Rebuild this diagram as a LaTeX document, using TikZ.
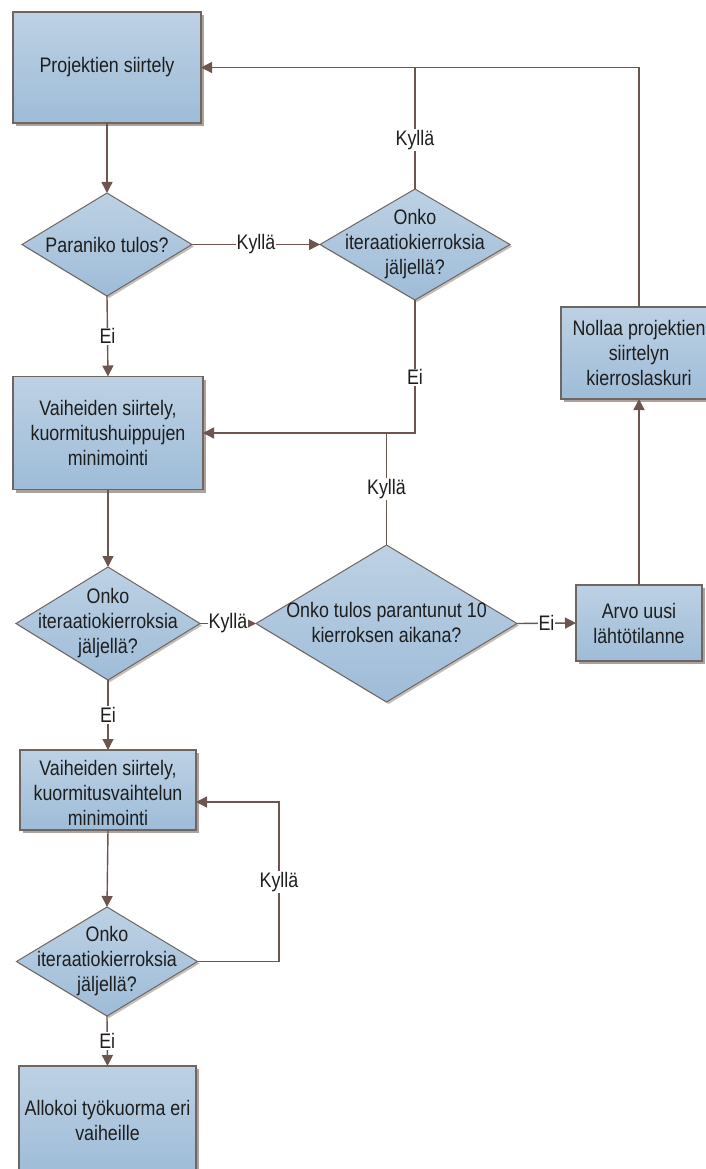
\documentclass[tikz,border=0pt]{standalone}
\usepackage{fontspec}
\setmainfont{Liberation Sans}[FakeStretch=0.85]
\usetikzlibrary{shapes.geometric,arrows.meta,shadows}

\definecolor{filltop}{HTML}{BDD1E4}
\definecolor{fillbot}{HTML}{9EBCD8}
\definecolor{edgec}{HTML}{6F6662}
\definecolor{linec}{HTML}{6E5650}
\definecolor{shadowc}{HTML}{ABA29E}
\definecolor{textc}{HTML}{1E1E1E}

\tikzset{
  base/.style={font=\fontsize{21}{25}\selectfont, text=textc},
  procbox/.style={base, draw=edgec, line width=1.2pt, top color=filltop, bottom color=fillbot,
    align=center, inner sep=0pt, outer sep=0pt,
    general shadow={fill=shadowc, shadow xshift=3pt, shadow yshift=-3pt}},
  decision/.style={diamond, draw=edgec, line width=1pt, top color=filltop, bottom color=fillbot,
    inner sep=0pt, outer sep=0pt,
    general shadow={fill=shadowc!70, shadow xshift=2pt, shadow yshift=-2pt}},
  dtext/.style={base, align=center, inner sep=0pt},
  conn/.style={draw=linec, line width=1.4pt},
  flow/.style={conn, -{Triangle[length=11pt,width=11pt]}},
  lbl/.style={base, fill=white, inner sep=1pt},
}

\begin{document}
\begin{tikzpicture}[x=1pt,y=-1pt]
\useasboundingbox (0,0) rectangle (706,1169);

% process boxes
\node[procbox, minimum width=188pt, minimum height=111pt] (box1) at (107,67.5) {Projektien siirtely};
\node[procbox, minimum width=190pt, minimum height=113pt] (box2) at (108,433) {Vaiheiden siirtely,\\kuormitushuippujen\\minimointi};
\node[procbox, minimum width=156pt, minimum height=92pt] (nollaa) at (639,353) {Nollaa projektien\\siirtelyn\\kierroslaskuri};
\node[procbox, minimum width=126pt, minimum height=76pt] (arvo) at (639,623) {Arvo uusi\\lähtötilanne};
\node[procbox, minimum width=176pt, minimum height=80pt] (box3) at (108,790) {};
\node[dtext] (box3t) at (108,793) {Vaiheiden siirtely,\\kuormitusvaihtelun\\minimointi};
\node[procbox, minimum width=177pt, minimum height=108pt] (box4) at (107.5,1120) {Allokoi työkuorma eri\\vaiheille};

% decisions
\node[decision, minimum width=170pt, minimum height=103pt] (d1) at (107,244.5) {};
\node[dtext] (d1t) at (d1) {Paraniko tulos?};
\node[decision, minimum width=190pt, minimum height=111pt] (d2) at (415,244.5) {};
\node[dtext] (d2t) at (d2) {Onko\\iteraatiokierroksia\\jäljellä?};
\node[decision, minimum width=261pt, minimum height=157pt] (big) at (386.5,623.5) {};
\node[dtext] (bigt) at (386.5,622) {Onko tulos parantunut 10\\kierroksen aikana?};
\node[decision, minimum width=184pt, minimum height=113pt] (d3) at (108,623.5) {};
\node[dtext] (d3t) at (d3) {Onko\\iteraatiokierroksia\\jäljellä?};
\node[decision, minimum width=181pt, minimum height=109pt] (d4) at (107,961.5) {};
\node[dtext] (d4t) at (d4) {Onko\\iteraatiokierroksia\\jäljellä?};

% junctions and corners
\coordinate (j1) at (d2.north |- box1.east);
\coordinate (loop) at (279,802);

% connectors
\draw[flow] (box1.south) -- (d1.north);
\draw[flow] (d1.east) -- node[lbl] {Kyllä} (d2.west);
\draw[conn] (d2.north) -- node[lbl, pos=0.405] {Kyllä} (j1);
\draw[flow] (nollaa.north) |- (box1.east);
\draw[flow] (d2.south) |- node[lbl, pos=0.29] {Ei} (box2.east);
\draw[conn] (big.north) -- node[lbl] {Kyllä} (big.north |- box2.east);
\draw[flow] (d1.south) -- node[lbl] {Ei} (box2.north);
\draw[flow] (box2.south) -- (d3.north);
\draw[flow] (d3.east) -- node[lbl] {Kyllä} (big.west);
\draw[flow] (big.east) -- node[lbl] {Ei} (arvo.west);
\draw[flow] (arvo.north) -- (nollaa.south);
\draw[flow] (d3.south) -- node[lbl] {Ei} (box3.north);
\draw[flow] (box3.south) -- (d4.north);
\draw[flow] (d4.east) -| node[lbl, pos=0.75] {Kyllä} (loop) -- (box3.east |- loop);
\draw[flow] (d4.south) -- node[lbl] {Ei} (box4.north);
\end{tikzpicture}
\end{document}
